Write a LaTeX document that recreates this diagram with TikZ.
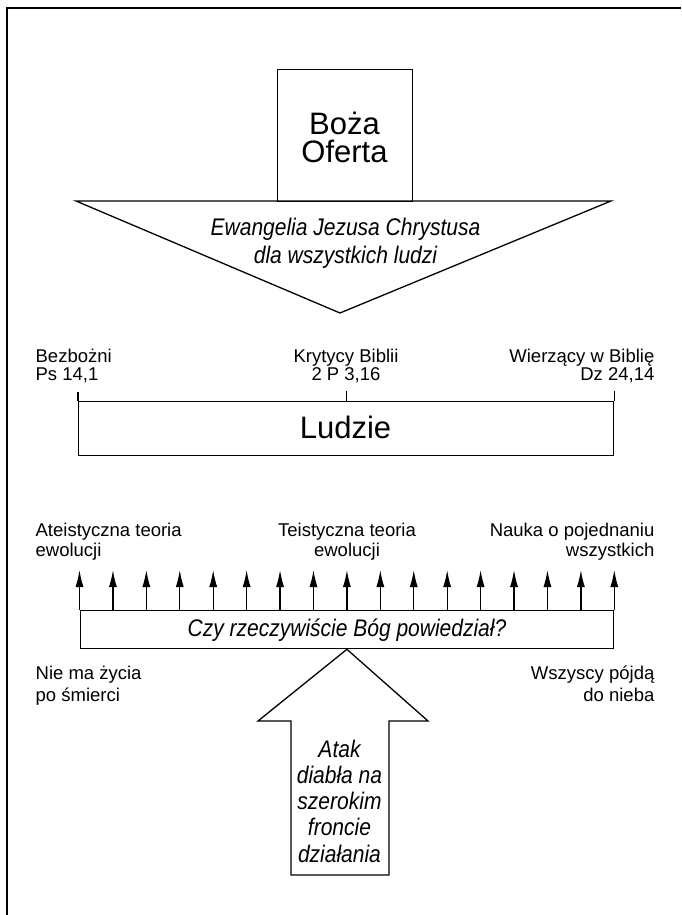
\documentclass[tikz,border=0pt]{standalone}
\usepackage{fontspec}
\setmainfont{Liberation Sans}
\newfontfamily\condsans{Liberation Sans}[FakeStretch=0.875]
\usetikzlibrary{arrows.meta,calc}
\newcommand\clines[1]{\vtop{\lineskiplimit=-\maxdimen\lineskip=0pt\halign{\hfil##\hfil\cr#1\crcr}}}
\newcommand\llines[1]{\vtop{\lineskiplimit=-\maxdimen\lineskip=0pt\halign{##\hfil\cr#1\crcr}}}
\newcommand\rlines[1]{\vtop{\lineskiplimit=-\maxdimen\lineskip=0pt\halign{\hfil##\cr#1\crcr}}}
\begin{document}
\begin{tikzpicture}[x=1pt,y=-1pt,
  line width=1.3pt, line join=miter,
  small/.style={font=\fontsize{18.5}{#1}\selectfont, inner sep=0pt},
  small/.default=20,
  mid/.style={font=\condsans\fontsize{24}{#1}\selectfont\itshape, inner sep=0pt},
  mid/.default=26.3,
  big/.style={font=\fontsize{31}{28}\selectfont, inner sep=0pt},
  boxed/.style={draw, inner sep=0pt, anchor=north west},
  tick/.style={-{Latex[length=17pt,width=8pt]}}]
\useasboundingbox (0,0) rectangle (681,915);
\draw[line width=2pt] (681,8) -- (7,8) -- (7,915);

% Boza Oferta
\node[boxed, minimum width=135pt, minimum height=132pt] (oferta) at (277,69) {};
\node[big, anchor=base] (ofertatxt) at (344.5,135) {\clines{Boża\cr Oferta}};
\draw (76,201) -- (611,201) -- (340,313) -- cycle;
\node[mid=28, anchor=base] (ewang) at (345.5,235) {\clines{Ewangelia Jezusa Chrystusa\cr dla wszystkich ludzi}};

% Ludzie
\node[boxed, minimum width=535pt, minimum height=54pt] (ludzie) at (78,401) {};
\draw (ludzie.north west) -- ++(0,-9);
\draw (ludzie.north) -- ++(0,-10);
\draw (ludzie.north east) -- ++(0,-10);
\node[big, anchor=base] (ludzietxt) at (345.5,438) {Ludzie};
\node[small=18, anchor=base west] (bezb) at (35,362) {\llines{Bezbożni\cr Ps 14,1}};
\node[small=18, anchor=base] (kryt) at (346,362) {\clines{Krytycy Biblii\cr 2 P 3,16}};
\node[small=18, anchor=base east] (wierz) at (655,362) {\rlines{Wierzący w Biblię\cr Dz 24,14}};

% Czy rzeczywiscie
\node[small, anchor=base west] (ateist) at (35,536) {\llines{Ateistyczna teoria\cr ewolucji}};
\node[small, anchor=base] (teist) at (347,536) {\clines{Teistyczna teoria\cr ewolucji}};
\node[small, anchor=base east] (nauka) at (655,536) {\rlines{Nauka o pojednaniu\cr wszystkich}};
\node[boxed, minimum width=533.5pt, minimum height=38pt] (czy) at (79.5,610) {};
\foreach \i in {0,...,16} \draw[tick] ($(czy.north west)!\i/16!(czy.north east)$) -- ++(0,-40);
\node[mid, anchor=base] (czytxt) at (347,636) {Czy rzeczywiście Bóg powiedział?};
\node[small=22, anchor=base west] (nie) at (35,679) {\llines{Nie ma życia\cr po śmierci}};
\node[small=22, anchor=base east] (wszy) at (655,679) {\rlines{Wszyscy pójdą\cr do nieba}};

% Atak
\draw (czy.south) -- (428,721) -- (389,721) -- (389,875) -- (291,875) -- (291,721) -- (258,721) -- cycle;
\node[mid, anchor=base] (atak) at (339.5,757) {\clines{Atak\cr diabła na\cr szerokim\cr froncie\cr działania}};
\end{tikzpicture}
\end{document}
